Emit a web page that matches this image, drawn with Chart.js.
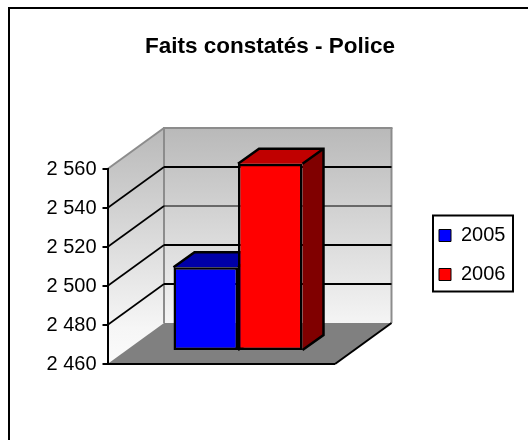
<!DOCTYPE html>
<html>
<head>
<meta charset="utf-8">
<title>Faits constatés - Police</title>
<script src="https://cdn.jsdelivr.net/npm/chart.js@4"></script>
<style>
  html, body { margin: 0; padding: 0; background: #fff; }
  canvas { display: block; }
</style>
</head>
<body>
<canvas id="myChart" width="528" height="440"></canvas>
<script>
const titre = 'Faits constatés - Police'
const categories = ['Police']
const series2005 = [2503]
const series2006 = [2556]
const tickLabels = ['2 460', '2 480', '2 500', '2 520', '2 540', '2 560']
const axisMin = 2460
const axisMax = 2560

// 3D look: depth of the walls, position of the bars inside it, depth of a bar
const wallDx = 56.5, wallDy = -41
const barShiftX = 16.75, barShiftY = -13
const barDx = 21, barDy = -15

function poly(c, pts, fill) {
  c.beginPath()
  pts.forEach((p, i) => i ? c.lineTo(p[0], p[1]) : c.moveTo(p[0], p[1]))
  c.closePath()
  c.fillStyle = fill
  c.fill()
}

function line(c, x1, y1, x2, y2, color, width) {
  c.beginPath()
  c.moveTo(x1, y1)
  c.lineTo(x2, y2)
  c.strokeStyle = color
  c.lineWidth = width
  c.stroke()
}

const decor = {
  id: 'decor',
  afterUpdate(chart) {
    chart.titleBlock.left = 20
    chart.titleBlock.right = 520
    const leg = chart.legend
    leg.left = 420
    leg.right = 528
    leg.top = 206.5
    leg.bottom = 340
    leg.adjustHitBoxes()
  },
  beforeDraw(chart) {
    const c = chart.ctx
    const y = chart.scales.y
    const l = chart.scales.x.left, r = chart.scales.x.right
    const top = y.getPixelForValue(y.max), bot = y.getPixelForValue(y.min)
    c.save()
    // cadre
    line(c, 9, 440, 9, 8, '#000', 2)
    line(c, 8, 8, 528, 8, '#000', 2)

    const backL = l + wallDx, backR = r + wallDx
    const backT = top + wallDy, backB = bot + wallDy
    const g = c.createLinearGradient(0, backT, 0, bot)
    g.addColorStop(0, '#b9b9b9')
    g.addColorStop(0.85, '#f6f6f6')
    g.addColorStop(1, '#fbfbfb')
    // murs et sol
    poly(c, [[backL, backT], [backR, backT], [backR, backB], [backL, backB]], g)
    poly(c, [[l, top], [backL, backT], [backL, backB], [l, bot]], g)
    poly(c, [[l, bot], [r, bot], [backR, backB], [backL, backB]], '#808080')
    line(c, l, top, backL, backT, '#8c8c8c', 2)
    line(c, backL - 1, backT, backR + 1, backT, '#8c8c8c', 2)
    line(c, backL, backT, backL, backB, '#8c8c8c', 2)
    line(c, backR, backT, backR, backB, '#8c8c8c', 2)
    // grille
    y.ticks.forEach((t, i) => {
      if (i === 0 || i === y.ticks.length - 1) return
      const py = y.getPixelForValue(t.value)
      line(c, l, py, backL, py + wallDy, '#000', 1.6)
      line(c, backL, py + wallDy, backR, py + wallDy, '#000', i === 3 ? 1 : 2)
    })
    line(c, l - 1, bot, r, bot, '#000', 2)
    line(c, r, bot, backR, backB, '#000', 2)
    c.restore()
  },
  beforeDatasetsDraw(chart) {
    const c = chart.ctx
    c.save()
    c.translate(barShiftX, barShiftY)
    const tops = ['#0000a8', '#c00000']
    const sides = ['#000080', '#800000']
    chart.data.datasets.forEach((ds, i) => {
      const b = chart.getDatasetMeta(i).data[0]
      const x1 = b.x - b.width / 2, x2 = b.x + b.width / 2
      poly(c, [[x1, b.y], [x1 + barDx, b.y + barDy], [x2 + barDx, b.y + barDy], [x2, b.y]], tops[i])
      poly(c, [[x2, b.y], [x2 + barDx, b.y + barDy], [x2 + barDx, b.base + barDy], [x2, b.base]], sides[i])
      c.beginPath()
      c.moveTo(x1, b.y)
      c.lineTo(x1 + barDx, b.y + barDy)
      c.lineTo(x2 + barDx, b.y + barDy)
      c.lineTo(x2 + barDx, b.base + barDy)
      c.lineTo(x2, b.base)
      c.moveTo(x2, b.y)
      c.lineTo(x2 + barDx, b.y + barDy)
      c.strokeStyle = '#000'
      c.lineWidth = 2.5
      c.stroke()
    })
  },
  afterDatasetsDraw(chart) {
    chart.ctx.restore()
  },
  afterDraw(chart) {
    const c = chart.ctx
    c.save()
    c.strokeStyle = '#000'
    c.lineWidth = 2
    c.strokeRect(433, 215.5, 80, 76)
    c.restore()
  }
}

const ctx = document.getElementById('myChart')
const myChart = new Chart(ctx, {
  type: 'bar',
  data: {
    labels: categories,
    datasets: [
      { label: '2005', data: series2005, base: axisMin, backgroundColor: '#0000ff', borderColor: '#000', borderWidth: 2.5, borderSkipped: false, clip: false },
      { label: '2006', data: series2006, base: axisMin, backgroundColor: '#ff0000', borderColor: '#000', borderWidth: 2.5, borderSkipped: false, clip: false }
    ]
  },
  plugins: [decor],
  options: {
    responsive: false,
    animation: false,
    layout: { padding: { left: 0, top: 0, right: 113, bottom: 76 } },
    datasets: { bar: { barPercentage: 1, categoryPercentage: 0.567 } },
    scales: {
      x: { display: false },
      y: {
        min: axisMin,
        max: axisMax,
        afterFit(axis) { axis.width = 107.5 },
        ticks: {
          stepSize: 20,
          padding: 6,
          color: '#000',
          font: { family: '"Liberation Sans", Arial, sans-serif', size: 20 },
          callback: (v, i) => tickLabels[i]
        },
        grid: { drawOnChartArea: false, color: '#000', lineWidth: 2, tickLength: 5 },
        border: { color: '#000', width: 2 }
      }
    },
    plugins: {
      title: {
        display: true,
        text: titre,
        color: '#000',
        font: { family: '"Liberation Sans", Arial, sans-serif', size: 22.5, weight: 'bold', lineHeight: 1.2 },
        padding: { top: 33, bottom: 109 }
      },
      legend: {
        position: 'right',
        align: 'start',
        maxWidth: 80,
        labels: {
          color: '#000',
          boxWidth: 12,
          boxHeight: 12,
          padding: 19,
          font: { family: '"Liberation Sans", Arial, sans-serif', size: 20, lineHeight: 1.2 },
          generateLabels: (c) => Chart.defaults.plugins.legend.labels.generateLabels(c).map(it => ({ ...it, lineWidth: 1 }))
        }
      },
      tooltip: { enabled: false }
    }
  }
})
</script>
</body>
</html>
